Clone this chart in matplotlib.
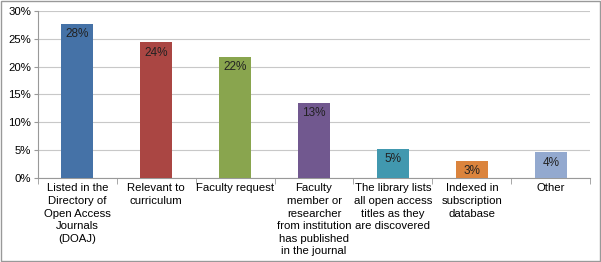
# bar chart: reasons for adding open access journals
import matplotlib.pyplot as plt
from matplotlib.ticker import MultipleLocator, FuncFormatter

plt.rcParams['font.family'] = ['Liberation Sans', 'DejaVu Sans']

categories = ["Listed in the\nDirectory of\nOpen Access\nJournals\n(DOAJ)",
              "Relevant to\ncurriculum",
              "Faculty request",
              "Faculty\nmember or\nresearcher\nfrom institution\nhas published\nin the journal",
              "The library lists\nall open access\ntitles as they\nare discovered",
              "Indexed in\nsubscription\ndatabase",
              "Other"]
values = [27.7, 24.4, 21.8, 13.5, 5.2, 3.1, 4.6]
labels = ["28%", "24%", "22%", "13%", "5%", "3%", "4%"]
colors = ["#4572A7", "#AA4643", "#89A54E", "#71588F", "#4198AF", "#DB843D", "#93A9CF"]

fig = plt.figure(figsize=(6.01, 2.62), dpi=100)
ax = fig.add_axes([0.063, 0.321, 0.919, 0.637])

x = range(len(values))
ax.bar(x, values, width=0.41, color=colors, zorder=3)

for i, v in enumerate(values):
    ax.annotate(labels[i], (i, v), xytext=(0, -7.5), textcoords='offset points',
                ha='center', va='center', fontsize=8.5, color='#222222', zorder=4)

ax.set_ylim(0, 30)
ax.set_xlim(-0.5, len(values) - 0.5)
ax.yaxis.set_major_locator(MultipleLocator(5))
ax.yaxis.set_major_formatter(FuncFormatter(lambda v, p: "%d%%" % v))
ax.grid(axis='y', color='#c8c8c8', linewidth=0.8, zorder=0)

ax.set_xticks(list(x))
ax.set_xticklabels(categories, fontsize=8.2, linespacing=1.32)
ax.tick_params(axis='x', length=0, pad=4)
# minor ticks at category boundaries
ax.set_xticks([i + 0.5 for i in range(-1, len(values))], minor=True)
ax.tick_params(axis='x', which='minor', length=4, color='#999999')
ax.tick_params(axis='y', length=3, color='#999999', labelsize=8.2, pad=2)

for s in ['top', 'right']:
    ax.spines[s].set_visible(False)
ax.spines['left'].set_color('#999999')
ax.spines['bottom'].set_color('#999999')

# thin frame around the whole picture
fig.patches.append(plt.Rectangle((0.001, 0.002), 0.997, 0.995, transform=fig.transFigure,
                                 fill=False, edgecolor='#999999', linewidth=1))

fig.savefig("out.png", dpi=100)
